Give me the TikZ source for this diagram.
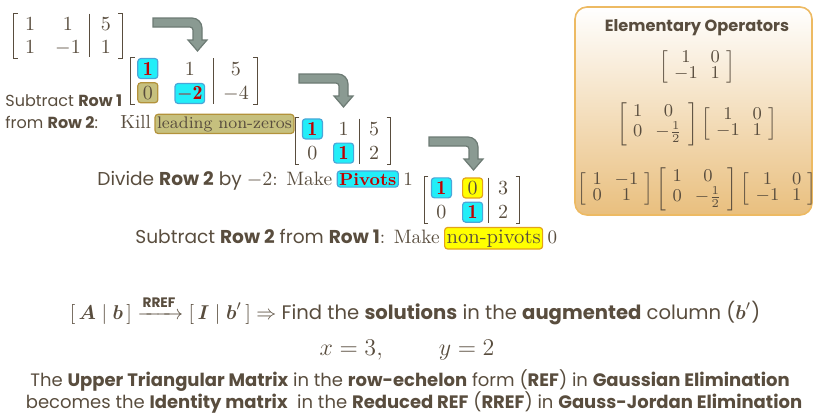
\documentclass[tikz,border=0pt]{standalone}
\usepackage{fontspec}
\usepackage{amsmath}
\usepackage{xcolor}
\usepackage{tikz}
\usetikzlibrary{matrix,positioning,calc}
\newfontfamily\gothic{Poppins}

\definecolor{ink}{HTML}{594D3E}
\definecolor{pivcyan}{HTML}{22EEF8}
\definecolor{cyanedge}{HTML}{4AA6D8}
\definecolor{pivred}{HTML}{C00000}
\definecolor{olivefill}{HTML}{C6C07E}
\definecolor{oliveedge}{HTML}{B3923B}
\definecolor{yellowfill}{HTML}{FFFF00}
\definecolor{yellowedge}{HTML}{E3A21A}
\definecolor{arrowgrey}{HTML}{8A9A92}
\definecolor{arrowedge}{HTML}{6D7B74}
\definecolor{optan}{HTML}{E9BF7E}
\definecolor{opedge}{HTML}{EDBA63}

\begin{document}
\begin{tikzpicture}[x=0.5pt, y=-0.5pt,
    every node/.style={text=ink},
    sans/.style={font=\gothic\fontsize{9}{11}\selectfont, inner sep=0pt},
    serif/.style={font=\fontsize{9.5}{11}\selectfont},
    txt/.style={inner sep=0pt, anchor=base west},
    hl/.style={draw, line width=0.6pt, rounded corners=1.5pt, inner sep=1pt},
    hlcyan/.style={hl, fill=pivcyan, draw=cyanedge},
    hlolive/.style={hl, fill=olivefill, draw=oliveedge},
    hlyellow/.style={hl, fill=yellowfill, draw=yellowedge},
    piv/.style={hlcyan, text=pivred},
    zero/.style={hlolive},
    nonpiv/.style={hlyellow},
    aug/.style={matrix of math nodes, inner sep=0pt,
        nodes={anchor=base, minimum width=10pt, minimum height=10pt,
            inner sep=1pt, font=\fontsize{10}{12}\selectfont},
        row sep=1.5pt, column sep=8pt},
    augbar/.style={draw=ink, line width=0.5pt},
    delim/.style={draw=ink, line width=0.55pt},
    opbox/.style={draw=opedge, line width=0.8pt, rounded corners=6pt,
        top color=white, bottom color=optan, minimum width=118.5pt, minimum height=104pt},
    opmath/.style={font=\fontsize{9}{9}\selectfont, inner sep=0pt,
        execute at begin node={\arraycolsep=3.2pt\renewcommand{\arraystretch}{0.9}}},
    turnarrow/.pic={
        \path[pic actions] (0,0) [rounded corners=5pt] -- (49,0) [sharp corners] -- (49,22)
            -- (54,22) -- (44.5,33) -- (35,22) -- (40,22) [rounded corners=1.5pt] -- (40,9)
            [sharp corners] -- (0,9) -- cycle;
    },
    ]
    \useasboundingbox (0,0) rectangle (817,414);

    % row operations
    \matrix[aug, column sep=6.5pt] (m1) at (68,36) {
        1 & 1 & 5 \\
        1 & -1 & 1 \\
    };
    \matrix[aug] (m2) at (194,81) {
        |[piv]| \mathbf{1} & 1 & 5 \\
        |[zero]| 0 & |[piv]| \mathbf{-2} & -4 \\
    };
    \matrix[aug, column sep=5pt] (m3) at (343,141) {
        |[piv]| \mathbf{1} & 1 & 5 \\
        0 & |[piv]| \mathbf{1} & 2 \\
    };
    \matrix[aug, column sep=5pt] (m4) at (472,200) {
        |[piv]| \mathbf{1} & |[nonpiv]| 0 & 3 \\
        0 & |[piv]| \mathbf{1} & 2 \\
    };
    \foreach \m in {m1,m2,m3,m4} {
        \coordinate (\m-bar) at ($(\m-2-2.east)!.5!(\m-2-3.west)$);
        \draw[augbar] (\m-bar |- \m-1-3.north) -- (\m-bar |- \m-2-3.south);
        \draw[delim] ([xshift=-1pt]\m.north west) -| ([xshift=-3pt]\m.south west) -- ([xshift=-1pt]\m.south west);
        \draw[delim] ([xshift=1pt]\m.north east) -| ([xshift=3pt]\m.south east) -- ([xshift=1pt]\m.south east);
    }

    \pic[fill=arrowgrey, draw=arrowedge, line width=0.6pt] (a1) at (153,18) {turnarrow};
    \pic[fill=arrowgrey, draw=arrowedge, line width=0.6pt] (a2) at (299,74) {turnarrow};
    \pic[fill=arrowgrey, draw=arrowedge, line width=0.6pt] (a3) at (429,137) {turnarrow};

    \node[txt, sans, font=\gothic\fontsize{8}{10}\selectfont] (sub1) at (5,106) {Subtract \textbf{Row 1}};
    \node[txt, sans, font=\gothic\fontsize{8}{10}\selectfont] (sub1b) at (5,128) {from \textbf{Row 2}:};
    \node[txt, serif] (kill) at (120,128) {Kill};
    \node[hlolive, serif, font=\fontsize{8.4}{10}\selectfont, anchor=base west] (killhl) at ([xshift=1.5pt]kill.base east) {leading non-zeros};

    \node[txt, sans, font=\gothic\fontsize{9.3}{11}\selectfont] (div) at (97,185) {Divide \textbf{Row 2} by \rmfamily\fontsize{9.7}{11}\selectfont $-2$: Make};
    \node[piv, serif, font=\fontsize{8.8}{10}\selectfont, anchor=base west] (pivots) at ([xshift=2pt]div.base east) {\textbf{Pivots}};
    \node[txt, serif] (piv1) at ([xshift=2pt]pivots.base east) {1};

    \node[txt, sans, font=\gothic\fontsize{9.3}{11}\selectfont] (sub2) at (135,243) {Subtract \textbf{Row 2} from \textbf{Row 1}\rmfamily\fontsize{9.7}{11}\selectfont: Make};
    \node[hlyellow, serif, font=\fontsize{10.3}{12}\selectfont, anchor=base west] (nonpiv) at ([xshift=2pt]sub2.base east) {non-pivots};
    \node[txt, serif] (nonpiv0) at ([xshift=2pt]nonpiv.base east) {0};

    % elementary operators
    \node[opbox] (ops) at (693.5,111) {};
    \node[sans, font=\gothic\bfseries\fontsize{8.1}{10}\selectfont] (opstitle) at (697,28) {Elementary Operators};
    \node[opmath] (op1) at (697,67) {$\left[\begin{array}{cc}1&0\\-1&1\end{array}\right]$};
    \node[opmath] (op2) at (697,124) {$\left[\begin{array}{cc}1&0\\0&-\tfrac{1}{2}\end{array}\right]
        \left[\begin{array}{cc}1&0\\-1&1\end{array}\right]$};
    \node[opmath] (op3) at (697,189) {$\left[\begin{array}{cc}1&-1\\0&1\end{array}\right]
        \left[\begin{array}{cc}1&0\\0&-\tfrac{1}{2}\end{array}\right]
        \left[\begin{array}{cc}1&0\\-1&1\end{array}\right]$};

    % summary
    \node[sans, font=\gothic\fontsize{9.8}{12}\selectfont, anchor=base] (rref) at (415,319) {$[\,\boldsymbol{A}\mid\boldsymbol{b}\,]\xrightarrow{\textbf{RREF}}[\,\boldsymbol{I}\mid\boldsymbol{b}'\,]\Rightarrow$ Find the \textbf{solutions} in the \textbf{augmented} column ($\boldsymbol{b}'$)};
    \node[anchor=base, font=\fontsize{13}{15}\selectfont] (sol) at (407,355) {$x=3,\qquad y=2$};
    \node[sans, anchor=base] (gauss1) at (410,386) {The \textbf{Upper Triangular Matrix} in the \textbf{row-echelon} form (\textbf{REF}) in \textbf{Gaussian Elimination}};
    \node[sans, anchor=base] (gauss2) at (414,408) {becomes the \textbf{Identity matrix}\ \ in the \textbf{Reduced REF} (\textbf{RREF}) in \textbf{Gauss-Jordan Elimination}};
\end{tikzpicture}
\end{document}
